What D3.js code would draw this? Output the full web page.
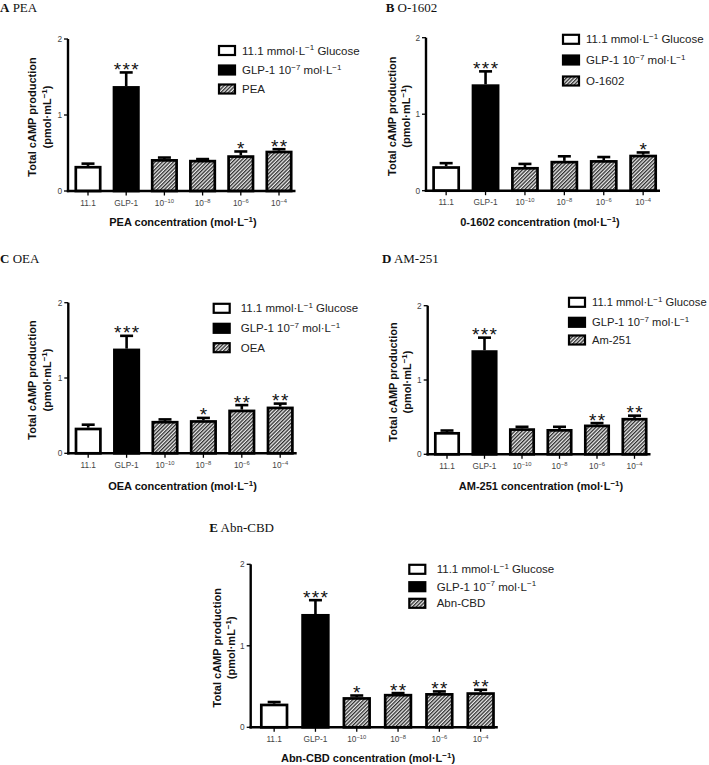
<!DOCTYPE html>
<html><head><meta charset="utf-8">
<script src="https://cdn.jsdelivr.net/npm/d3@7"></script>
<style>body{margin:0;background:#fff}svg{display:block}</style>
</head><body>
<svg id="c" width="709" height="765"></svg>
<script>
// ---------- DATA ----------
const categories = ["11.1", "GLP-1", "10^-10", "10^-8", "10^-6", "10^-4"];
const yTicks = [0, 1, 2];
const legendFixed = ["11.1 mmol·L^-1 Glucose", "GLP-1 10^-7 mol·L^-1"];

const peaMeans   = [0.33, 1.38, 0.42, 0.41, 0.47, 0.53];
const peaErr     = [0.03, 0.18, 0.02, 0.01, 0.05, 0.02];
const peaSig     = ["", "***", "", "", "*", "**"];

const o1602Means = [0.32, 1.39, 0.31, 0.39, 0.40, 0.47];
const o1602Err   = [0.04, 0.17, 0.04, 0.06, 0.04, 0.03];
const o1602Sig   = ["", "***", "", "", "", "*"];

const oeaMeans   = [0.34, 1.39, 0.43, 0.44, 0.58, 0.62];
const oeaErr     = [0.04, 0.17, 0.02, 0.03, 0.06, 0.04];
const oeaSig     = ["", "***", "", "*", "**", "**"];

const am251Means = [0.30, 1.40, 0.35, 0.34, 0.40, 0.49];
const am251Err   = [0.02, 0.17, 0.02, 0.03, 0.02, 0.03];
const am251Sig   = ["", "***", "", "", "**", "**"];

const abnMeans   = [0.29, 1.39, 0.37, 0.41, 0.42, 0.43];
const abnErr     = [0.02, 0.17, 0.02, 0.01, 0.02, 0.03];
const abnSig     = ["", "***", "*", "**", "**", "**"];

const panelLetters = ["A", "B", "C", "D", "E"];
const panelNames   = ["PEA", "O-1602", "OEA", "AM-251", "Abn-CBD"];
const legendNames  = ["PEA", "O-1602", "OEA", "Am-251", "Abn-CBD"];
const xTitles = ["PEA concentration (mol·L^-1)", "0-1602 concentration (mol·L^-1)",
  "OEA concentration (mol·L^-1)", "AM-251 concentration (mol·L^-1)", "Abn-CBD concentration (mol·L^-1)"];
const yTitle1 = "Total cAMP production";
const yTitle2 = "(pmol·mL^-1)";
const allMeans = [peaMeans, o1602Means, oeaMeans, am251Means, abnMeans];
const allErr   = [peaErr, o1602Err, oeaErr, am251Err, abnErr];
const allSig   = [peaSig, o1602Sig, oeaSig, am251Sig, abnSig];

// ---------- LAYOUT ----------
const layouts = [
  {x0:68,   yB:191,   yT:39,    barL:74.5,  step:38.2, bw:27,   lgX:218,   lgY:[50.5,70,89],     txX:242,   lab:[0,12],      yt:[32,47],       xt:[183,226], lfs:11.5},
  {x0:426,  yB:190.7, yT:37.7,  barL:432.3, step:39.4, bw:27.7, lgX:562,   lgY:[39.3,60,81],     txX:586,   lab:[385.7,12],  yt:[391.7,405.7], xt:[540,226], lfs:11.5},
  {x0:68.3, yB:453.3, yT:302.7, barL:74.7,  step:38.4, bw:27,   lgX:212.7, lgY:[308.3,328.3,347.7], txX:240.7, lab:[0,263],  yt:[32,47],       xt:[182.5,490], lfs:11.5},
  {x0:427.7,yB:454.3, yT:305.7, barL:434,   step:37.5, bw:26,   lgX:568,   lgY:[302.3,322.3,340],   txX:592,   lab:[382,263], yt:[393,407],     xt:[541,490], lfs:11.2},
  {x0:250.7,yB:727.3, yT:564.3, barL:260,   step:41.3, bw:28.3, lgX:408.3, lgY:[569.3,586.7,603.3], txX:436.7, lab:[209.3,532], yt:[216.7,231], xt:[368,762], lfs:11.5}
];

const SANS = "'Liberation Sans', Arial, Helvetica, sans-serif";
const SERIF = "'Liberation Serif', 'Times New Roman', serif";
const svg = d3.select("#c");

const defs = svg.append("defs");
const pat = defs.append("pattern").attr("id","hatch").attr("patternUnits","userSpaceOnUse")
  .attr("width",2.6).attr("height",2.6).attr("patternTransform","rotate(45)");
pat.append("rect").attr("width",2.6).attr("height",2.6).attr("fill","#ececec");
pat.append("line").attr("x1",0.65).attr("y1",0).attr("x2",0.65).attr("y2",2.6)
  .attr("stroke","#2e2e2e").attr("stroke-width",1.3);

// text with ^superscripts, e.g. "mol·L^-1)"
function richText(sel, str, fs, supFs, rise) {
  const parts = str.split(/(\^[-\d]+)/).filter(s => s.length);
  let pendingDy = 0;
  parts.forEach(p => {
    if (p[0] === "^") {
      sel.append("tspan").attr("font-size", supFs).attr("dy", -rise + pendingDy)
        .text(p.slice(1).replace("-", "\u2212"));
      pendingDy = rise;
    } else {
      const t = sel.append("tspan").attr("font-size", fs).text(p);
      if (pendingDy) t.attr("dy", pendingDy);
      pendingDy = 0;
    }
  });
}

const fills = ["#fff", "#000", "url(#hatch)"];

layouts.forEach((L, pi) => {
  const g = svg.append("g");
  const means = allMeans[pi], errs = allErr[pi], sigs = allSig[pi];
  const pIn = 1 - L.bw / L.step;
  const pOut = (L.barL - L.x0) / L.step;
  const x = d3.scaleBand().domain(categories).paddingInner(pIn).paddingOuter(pOut)
    .range([L.x0, L.x0 + L.step * (categories.length - pIn + 2 * pOut)]);
  const y = d3.scaleLinear().domain([0, 2]).range([L.yB, L.yT]);

  // panel label
  const lt = g.append("text").attr("x", L.lab[0]).attr("y", L.lab[1])
    .attr("font-family", SERIF).attr("font-size", 13).attr("fill", "#111");
  lt.append("tspan").attr("font-weight", "bold").text(panelLetters[pi]);
  lt.append("tspan").text(" " + panelNames[pi]);

  // bars
  categories.forEach((c, i) => {
    const kind = i === 0 ? 0 : (i === 1 ? 1 : 2);
    const cx = x(c) + x.bandwidth() / 2;
    const top = y(means[i] + errs[i]);
    g.append("line").attr("x1", cx).attr("x2", cx)
      .attr("y1", y(means[i])).attr("y2", top)
      .attr("stroke", "#000").attr("stroke-width", 2.6);
    g.append("line").attr("x1", cx - 6.5).attr("x2", cx + 6.5)
      .attr("y1", top).attr("y2", top)
      .attr("stroke", "#000").attr("stroke-width", 2.6);
    g.append("rect").attr("x", x(c) + 1.3).attr("y", y(means[i]) + 1.3)
      .attr("width", x.bandwidth() - 2.6).attr("height", Math.max(0, y(0) - y(means[i]) - 1.3))
      .attr("fill", fills[kind]).attr("stroke", "#000").attr("stroke-width", 2.7);
    if (sigs[i]) {
      g.append("text").attr("x", cx + 0.7).attr("y", top + 3.5)
        .attr("text-anchor", "middle").attr("font-family", SANS).attr("font-size", 19)
        .attr("letter-spacing", 1.4).attr("fill", "#111").text(sigs[i]);
    }
  });

  // x axis
  const lastRight = x(categories[categories.length - 1]) + x.bandwidth();
  g.append("line").attr("x1", L.x0 - 1.2).attr("x2", lastRight + 3)
    .attr("y1", L.yB).attr("y2", L.yB).attr("stroke", "#000").attr("stroke-width", 2.4);
  categories.forEach(c => {
    const cx = x(c) + x.bandwidth() / 2;
    g.append("line").attr("x1", cx).attr("x2", cx).attr("y1", L.yB).attr("y2", L.yB + 4.5)
      .attr("stroke", "#000").attr("stroke-width", 1.3);
    const t = g.append("text").attr("x", cx).attr("y", L.yB + 14.5).attr("text-anchor", "middle")
      .attr("font-family", SANS).attr("fill", "#444");
    richText(t, c, 8.3, 5.8, 3);
  });

  // y axis
  g.append("line").attr("x1", L.x0).attr("x2", L.x0).attr("y1", L.yB + 1.2).attr("y2", L.yT)
    .attr("stroke", "#000").attr("stroke-width", 2.4);
  yTicks.forEach(v => {
    g.append("line").attr("x1", L.x0 - 4).attr("x2", L.x0).attr("y1", y(v)).attr("y2", y(v))
      .attr("stroke", "#000").attr("stroke-width", 1.3);
    g.append("text").attr("x", L.x0 - 6).attr("y", y(v) + 3).attr("text-anchor", "end")
      .attr("font-family", SANS).attr("font-size", 8.3).attr("fill", "#444").text(v);
  });

  // y title
  const ymid = (L.yB + L.yT) / 2 + 2;
  const yt1 = g.append("text").attr("transform", `translate(${L.yt[0] + 4},${ymid}) rotate(-90)`)
    .attr("text-anchor", "middle").attr("font-family", SANS).attr("font-weight", "bold").attr("fill", "#111");
  richText(yt1, yTitle1, 11, 8, 4);
  const yt2 = g.append("text").attr("transform", `translate(${L.yt[1] + 4},${ymid}) rotate(-90)`)
    .attr("text-anchor", "middle").attr("font-family", SANS).attr("font-weight", "bold").attr("fill", "#111");
  richText(yt2, yTitle2, 11, 8, 4);

  // x title
  const xt = g.append("text").attr("x", L.xt[0]).attr("y", L.xt[1]).attr("text-anchor", "middle")
    .attr("font-family", SANS).attr("font-weight", "bold").attr("fill", "#111");
  richText(xt, xTitles[pi], 11, 8, 4);

  // legend
  const lgLabels = legendFixed.concat([legendNames[pi]]);
  lgLabels.forEach((lab, k) => {
    g.append("rect").attr("x", L.lgX + 1).attr("y", L.lgY[k] - 4.5).attr("width", 16).attr("height", 9)
      .attr("fill", fills[k]).attr("stroke", "#000").attr("stroke-width", 2.2);
    const t = g.append("text").attr("x", L.txX).attr("y", L.lgY[k] + 4)
      .attr("font-family", SANS).attr("fill", "#222");
    richText(t, lab, L.lfs, 8, 4.5);
  });
});
</script>
</body></html>
